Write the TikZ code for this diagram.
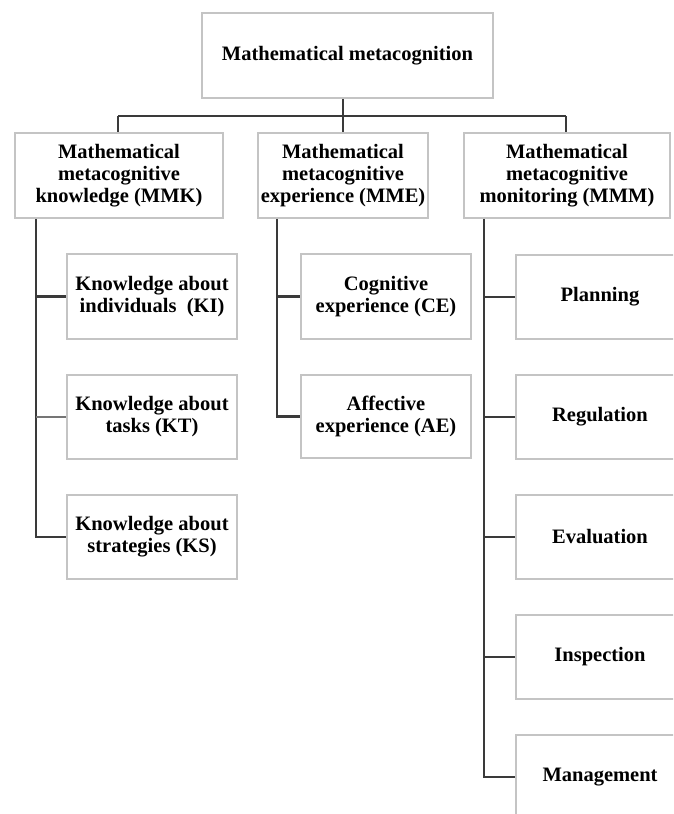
\documentclass[tikz,border=0pt]{standalone}
\usepackage{fontspec}
\setmainfont{Liberation Serif}
\begin{document}
\begin{tikzpicture}[x=1pt,y=-1pt,
  box/.style={draw=boxgray,line width=1.8pt,fill=white,rectangle,inner sep=0pt,
    align=center,font=\fontsize{20.5}{22}\selectfont\bfseries},
  conn/.style={draw=conngray,line width=2.6pt},
  thinconn/.style={draw=conngray!70,line width=1.4pt}]
\definecolor{boxgray}{HTML}{C4C4C4}
\definecolor{conngray}{HTML}{3A3A3A}
\useasboundingbox (0,0) rectangle (673,814);
\clip (0,0) rectangle (673,814);
\fill[white] (0,0) rectangle (673,814);
% top
\node[box,minimum width=291pt,minimum height=85pt] (top) at (347.5,55.5) {Mathematical metacognition};
% level 2
\node[box,minimum width=208pt,minimum height=85pt] (mmk) at (119,175.5) {Mathematical\\metacognitive\\knowledge (MMK)};
\node[box,minimum width=170pt,minimum height=85pt] (mme) at (343,175.5) {Mathematical\\metacognitive\\experience (MME)};
\node[box,minimum width=206pt,minimum height=85pt] (mmm) at (567,175.5) {Mathematical\\metacognitive\\monitoring (MMM)};
% MMK children
\node[box,minimum width=170pt,minimum height=85pt] (ki) at (152,296.5) {Knowledge about\\individuals\ \ (KI)};
\node[box,minimum width=170pt,minimum height=84pt] (kt) at (152,417) {Knowledge about\\tasks (KT)};
\node[box,minimum width=170pt,minimum height=84pt] (ks) at (152,537) {Knowledge about\\strategies (KS)};
% MME children
\node[box,minimum width=170pt,minimum height=85pt] (ce) at (386,296.5) {Cognitive\\experience (CE)};
\node[box,minimum width=170pt,minimum height=83pt] (ae) at (386,416.5) {Affective\\experience (AE)};
% MMM children
\node[box,minimum width=168pt,minimum height=84pt] (pl) at (600,297) {Planning};
\node[box,minimum width=168pt,minimum height=84pt] (re) at (600,417) {Regulation};
\node[box,minimum width=168pt,minimum height=84pt] (ev) at (600,537) {Evaluation};
\node[box,minimum width=168pt,minimum height=84pt] (in) at (600,657) {Inspection};
\node[box,minimum width=168pt,minimum height=84pt] (ma) at (600,777) {Management};
% connectors level 1 -> 2
\coordinate (bar) at (343,116);
\draw[conn] (top.south -| bar) -- (mme.north -| bar);
\draw[conn] (118,116) coordinate (barL) -- (566,116) coordinate (barR);
\draw[conn] (barL) -- (mmk.north -| barL);
\draw[conn] (barR) -- (mmm.north -| barR);
% MMK trunk
\coordinate (tk) at (36,0);
\draw[conn] (mmk.south -| tk) -- (ks.west -| tk) -- (ks.west);
\draw[conn] (ki.west -| tk) -- (ki.west);
\draw[thinconn] (kt.west -| tk) -- (kt.west);
% MME trunk
\coordinate (te) at (277,0);
\draw[conn] (mme.south -| te) -- (ae.west -| te) -- (ae.west);
\draw[conn] (ce.west -| te) -- (ce.west);
% MMM trunk
\coordinate (tm) at (484,0);
\draw[conn] (mmm.south -| tm) -- (ma.west -| tm) -- (ma.west);
\draw[conn] (pl.west -| tm) -- (pl.west);
\draw[conn] (re.west -| tm) -- (re.west);
\draw[conn] (ev.west -| tm) -- (ev.west);
\draw[conn] (in.west -| tm) -- (in.west);
\end{tikzpicture}
\end{document}
